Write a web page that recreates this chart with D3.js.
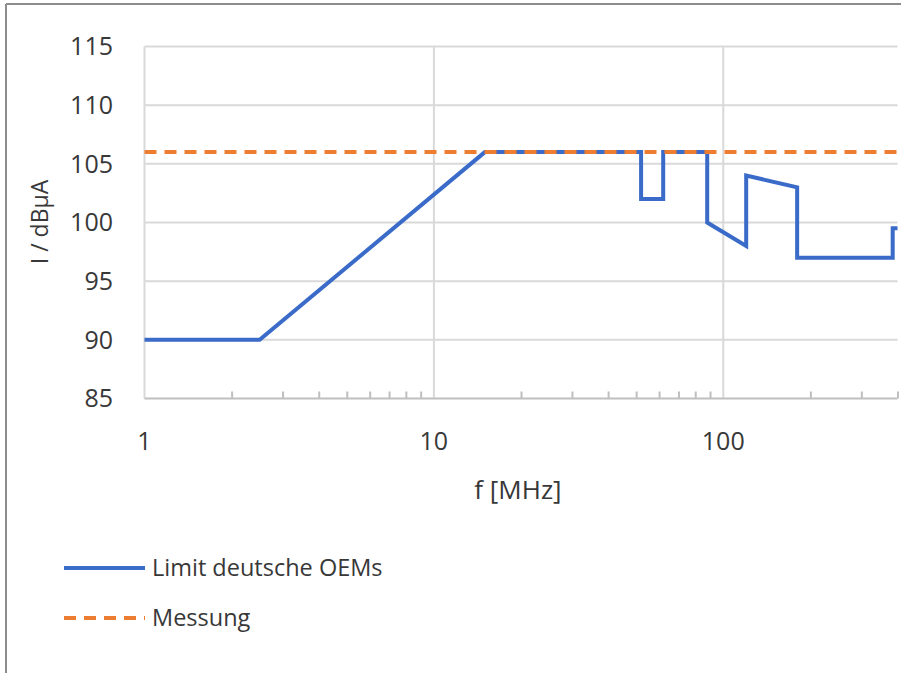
<!DOCTYPE html>
<meta charset="utf-8">
<style>
body { margin: 0; background-color: #fff; }
text { font-family: "Open Sans", sans-serif; fill: #383838; }
.grid line { stroke: #d9d9d9; stroke-width: 2px; }
.axis path, .axis line { fill: none; stroke: #bfbfbf; stroke-width: 2px; }
.limit { fill: none; stroke: #3a6bc8; stroke-width: 4px; stroke-linejoin: miter; }
.mess { fill: none; stroke: #ed7d31; stroke-width: 4px; stroke-dasharray: 12,8; }
</style>
<body>
<svg width="901" height="673"></svg>
<script src="https://d3js.org/d3.v7.min.js"></script>
<script>
// Limit deutsche OEMs (f in MHz, I in dBuA)
var limitF = [1, 2.5, 15, 52, 52, 62, 62, 88, 88, 120, 120, 180, 180, 385, 385, 400];
var limitI = [90, 90, 106, 106, 102, 102, 106, 106, 100, 98, 104, 103, 97, 97, 99.5, 99.5];
// Messung
var messF = [1, 400];
var messI = [106, 106];
var yTicks = [85, 90, 95, 100, 105, 110, 115];
var xLabels = [1, 10, 100];
var minorTicks = [2, 3, 4, 5, 6, 7, 8, 9, 20, 30, 40, 50, 60, 70, 80, 90, 200, 300, 400];

var svg = d3.select("svg");

// frame (top and left edge only)
svg.append("line").attr("x1", 6).attr("x2", 901).attr("y1", 4).attr("y2", 4)
  .attr("stroke", "#8c8c8c").attr("stroke-width", 2);
svg.append("line").attr("x1", 6).attr("x2", 6).attr("y1", 4).attr("y2", 673)
  .attr("stroke", "#8c8c8c").attr("stroke-width", 2);

var x = d3.scaleLog().domain([1, 400]).range([144.5, 897.5]);
var y = d3.scaleLinear().domain([85, 115]).range([398.5, 46.5]);

// horizontal grid
svg.append("g").attr("class", "grid")
  .selectAll("line").data(yTicks.slice(1)).enter().append("line")
  .attr("x1", x(1)).attr("x2", x(400))
  .attr("y1", function(d) { return y(d); }).attr("y2", function(d) { return y(d); });

// vertical grid at decades
svg.append("g").attr("class", "grid")
  .selectAll("line").data(xLabels).enter().append("line")
  .attr("x1", function(d) { return x(d); }).attr("x2", function(d) { return x(d); })
  .attr("y1", y(115)).attr("y2", y(85));

// x axis with minor ticks pointing up
var xAxis = svg.append("g").attr("class", "axis")
  .attr("transform", "translate(0," + y(85) + ")")
  .call(d3.axisTop(x).tickValues(minorTicks).tickSize(7).tickSizeOuter(0).tickFormat(""));
xAxis.select(".domain").attr("d", "M" + x(1) + ",0H" + x(400));

// tick labels
svg.selectAll(".ylab").data(yTicks).enter().append("text")
  .attr("class", "ylab")
  .attr("x", 113).attr("y", function(d) { return y(d); })
  .attr("dy", "0.35em").attr("text-anchor", "end")
  .style("font-size", "25px")
  .text(function(d) { return d; });

svg.selectAll(".xlab").data(xLabels).enter().append("text")
  .attr("class", "xlab")
  .attr("x", function(d) { return x(d); }).attr("y", 441)
  .attr("dy", "0.35em").attr("text-anchor", "middle")
  .style("font-size", "25px")
  .text(function(d) { return d; });

// axis titles
svg.append("text")
  .attr("transform", "translate(40,222) rotate(-90)")
  .attr("dy", "0.35em").attr("text-anchor", "middle")
  .style("font-size", "23px")
  .text("I / dBµA");
svg.append("text")
  .attr("x", 518).attr("y", 490).attr("dy", "0.35em").attr("text-anchor", "middle")
  .style("font-size", "26px")
  .text("f [MHz]");

// lines
var line = d3.line()
  .x(function(d) { return x(d[0]); })
  .y(function(d) { return y(d[1]); });

svg.append("path").datum(d3.zip(limitF, limitI)).attr("class", "limit").attr("d", line);
svg.append("path").datum(d3.zip(messF, messI)).attr("class", "mess").attr("d", line);

// legend
var legend = [
  {name: "Limit deutsche OEMs", cls: "limit"},
  {name: "Messung", cls: "mess"}
];
var lg = svg.selectAll(".lg").data(legend).enter().append("g")
  .attr("class", "lg")
  .attr("transform", function(d, i) { return "translate(64," + (568 + i * 50) + ")"; });
lg.append("line").attr("class", function(d) { return d.cls; })
  .attr("x1", 0).attr("x2", 81).attr("y1", 0).attr("y2", 0);
lg.append("text").attr("x", 88).attr("dy", "0.35em")
  .style("font-size", "23.5px")
  .text(function(d) { return d.name; });
</script>
</body>
